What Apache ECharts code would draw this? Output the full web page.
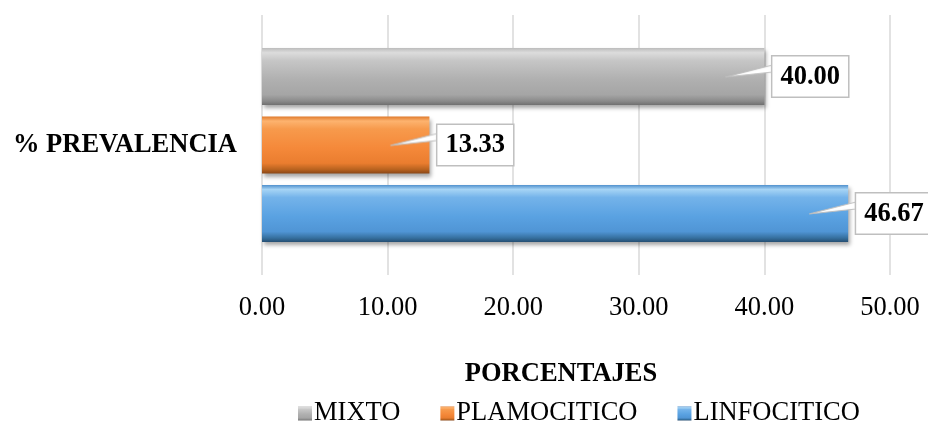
<!DOCTYPE html>
<html>
<head>
<meta charset="utf-8">
<script src="https://cdn.jsdelivr.net/npm/echarts@6/dist/echarts.min.js"></script>
<style>
  html, body { margin: 0; padding: 0; background: #fff; }
  #chart { width: 928px; height: 425px; }
</style>
</head>
<body>
<div id="chart"></div>
<script>
const categories = ['% PREVALENCIA'];
// series listed top to bottom as they appear in the bar group
const seriesNames = ['MIXTO', 'PLAMOCITICO', 'LINFOCITICO'];
const mixto = [40.00];
const plamocitico = [13.33];
const linfocitico = [46.67];
const legendOrder = ['MIXTO', 'PLAMOCITICO', 'LINFOCITICO'];

const serif = '"Liberation Serif", "Times New Roman", serif';
const fs = 26.5;

// bevel look: vertical gradient with a highlight on top and a dark lower edge
function bevel(c) {
  return new echarts.graphic.LinearGradient(0, 0, 0, 1, [
    { offset: 0, color: c[0] },
    { offset: 0.08, color: c[1] },
    { offset: 0.22, color: c[2] },
    { offset: 0.55, color: c[3] },
    { offset: 0.82, color: c[4] },
    { offset: 0.93, color: c[5] },
    { offset: 1, color: c[6] }
  ]);
}

const palettes = {
  LINFOCITICO: ['#4f8fcc', '#a6d4f5', '#74b3ea', '#5aa2e2', '#5095d5', '#36709f', '#264f73'],
  PLAMOCITICO: ['#e07a2c', '#fdb36f', '#f79a4c', '#f5893a', '#ea7d2f', '#b8621f', '#8a4716'],
  MIXTO: ['#bdbdbd', '#dcdcdc', '#c6c6c6', '#b0b0b0', '#a5a5a5', '#8a8a8a', '#6f6f6f']
};

// callout pointer drawn once into a small canvas, used as a rich-text background
function wedgeImage() {
  const cv = document.createElement('canvas');
  cv.width = 48; cv.height = 39;
  const ctx = cv.getContext('2d');
  ctx.beginPath();
  ctx.moveTo(1, 20);
  ctx.lineTo(48, 8);
  ctx.lineTo(48, 15);
  ctx.closePath();
  ctx.fillStyle = '#ffffff';
  ctx.fill();
  ctx.strokeStyle = '#bfbfbf';
  ctx.lineWidth = 1.2;
  ctx.stroke();
  return cv.toDataURL();
}
const wedge = wedgeImage();

function makeSeries(name, data) {
  return {
    name: name,
    type: 'bar',
    data: data,
    barWidth: 57,
    barGap: '20%',
    itemStyle: {
      color: bevel(palettes[name]),
      shadowColor: 'rgba(0,0,0,0.35)',
      shadowBlur: 4,
      shadowOffsetX: 2,
      shadowOffsetY: 3
    },
    label: {
      show: true,
      position: 'right',
      distance: 8,
      offset: [-48, 0],
      formatter: p => '{w|}{b|' + p.value.toFixed(2) + '}',
      rich: {
        w: {
          width: 48,
          height: 39,
          backgroundColor: { image: wedge }
        },
        b: {
          fontFamily: serif,
          fontSize: fs,
          fontWeight: 'bold',
          color: '#000',
          backgroundColor: '#fff',
          borderColor: '#bfbfbf',
          borderWidth: 1.5,
          padding: [7, 8, 6, 8],
          lineHeight: 26
        }
      }
    }
  };
}

const chart = echarts.init(document.getElementById('chart'), null, { renderer: 'canvas' });
chart.setOption({
  animation: false,
  grid: { left: 262, right: 38, top: 15, bottom: 150 },
  legend: {
    data: legendOrder,
    left: 293,
    top: 395,
    itemWidth: 14,
    itemHeight: 14,
    itemGap: 40,
    icon: 'rect',
    textStyle: { fontFamily: serif, fontSize: fs, color: '#000', padding: [0, 0, 0, -3] }
  },
  xAxis: {
    type: 'value',
    min: 0,
    max: 50,
    interval: 10,
    name: 'PORCENTAJES',
    nameLocation: 'middle',
    nameGap: 86,
    nameTextStyle: { fontFamily: serif, fontSize: fs, fontWeight: 'bold', color: '#000', padding: [0, 30, 0, 0] },
    axisLine: { show: false },
    axisTick: { show: false },
    axisLabel: {
      fontFamily: serif, fontSize: fs, color: '#000', margin: 20,
      formatter: v => v.toFixed(2)
    },
    splitLine: { lineStyle: { color: '#d9d9d9', width: 1.5 } }
  },
  yAxis: {
    type: 'category',
    data: categories,
    axisLine: { show: false },
    axisTick: { show: false },
    axisLabel: { fontFamily: serif, fontSize: fs, fontWeight: 'bold', color: '#000', margin: 25 }
  },
  series: [
    makeSeries(seriesNames[0], mixto),
    makeSeries(seriesNames[1], plamocitico),
    makeSeries(seriesNames[2], linfocitico)
  ]
});
</script>
</body>
</html>
